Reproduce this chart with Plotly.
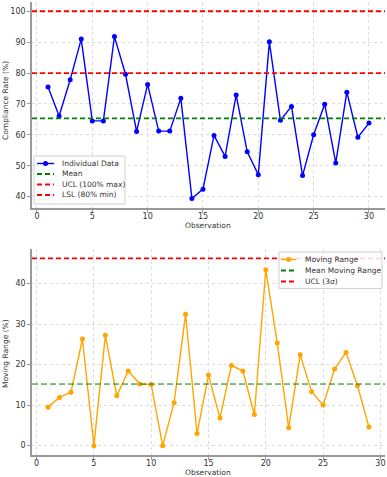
import plotly.graph_objects as go

obs = list(range(1, 31))
compliance = [75.5, 66.1, 77.8, 91.0, 64.5, 64.5, 91.8, 79.6, 61.1, 76.3,
              61.2, 61.2, 71.8, 39.4, 42.4, 59.8, 53.0, 72.9, 54.5, 47.1,
              90.1, 64.7, 69.2, 46.8, 60.0, 69.9, 50.9, 73.8, 59.2, 63.8]
mean_val = 65.3
ucl_top = 100
lsl_top = 80

mr_obs = list(range(1, 30))
moving_range = [9.5, 11.9, 13.2, 26.3, 0.0, 27.2, 12.3, 18.4, 15.2, 15.1,
                0.0, 10.6, 32.4, 3.0, 17.4, 6.8, 19.8, 18.4, 7.7, 43.4,
                25.3, 4.4, 22.4, 13.3, 10.0, 18.9, 23.0, 14.8, 4.6]
mean_mr = 15.2
ucl_mr = 46.2

top_legend = ["Individual Data", "Mean", "UCL (100% max)", "LSL (80% min)"]
bottom_legend = ["Moving Range", "Mean Moving Range", "UCL (3σ)"]

W, H = 387, 477
ML, MR, MT, MB = 32, 2, 2, 22
PW, PH = W - ML - MR, H - MT - MB
font = "DejaVu Sans"
dash = "5px,3px"
TXT = "#333333"


def px(x):
    return (x - ML) / PW


def py(y):
    return 1 - (y - MT) / PH


fig = go.Figure()

# Top chart
fig.add_trace(go.Scatter(x=obs, y=compliance, mode="lines+markers", name=top_legend[0],
                         line=dict(color="blue", width=1.4), marker=dict(color="blue", size=5),
                         xaxis="x", yaxis="y"))
fig.add_trace(go.Scatter(x=[-0.45, 31.45], y=[mean_val, mean_val], mode="lines", name=top_legend[1],
                         line=dict(color="green", width=1.8, dash=dash), xaxis="x", yaxis="y"))
fig.add_trace(go.Scatter(x=[-0.45, 31.45], y=[ucl_top, ucl_top], mode="lines", name=top_legend[2],
                         line=dict(color="red", width=1.8, dash=dash), xaxis="x", yaxis="y"))
fig.add_trace(go.Scatter(x=[-0.45, 31.45], y=[lsl_top, lsl_top], mode="lines", name=top_legend[3],
                         line=dict(color="red", width=1.8, dash=dash), xaxis="x", yaxis="y"))

# Bottom chart
fig.add_trace(go.Scatter(x=mr_obs, y=moving_range, mode="lines+markers", name=bottom_legend[0],
                         line=dict(color="orange", width=1.4), marker=dict(color="orange", size=5),
                         xaxis="x2", yaxis="y2"))
fig.add_trace(go.Scatter(x=[-0.4, 30.4], y=[mean_mr, mean_mr], mode="lines", name=bottom_legend[1],
                         line=dict(color="green", width=1.0, dash="6px,3px"), xaxis="x2", yaxis="y2"))
fig.add_trace(go.Scatter(x=[-0.4, 30.4], y=[ucl_mr, ucl_mr], mode="lines", name=bottom_legend[2],
                         line=dict(color="red", width=1.8, dash=dash), xaxis="x2", yaxis="y2"))

axis_common = dict(showline=True, linecolor="#999999", linewidth=1.5, ticks="outside",
                   ticklen=3, tickcolor="#999999", tickwidth=1, automargin=False,
                   showgrid=True, gridcolor="#dddddd", griddash="dot", gridwidth=1,
                   zeroline=False, tickfont=dict(size=8, color=TXT, family=font))

top_dom = [py(208), 1]
bot_dom = [0, py(249)]

fig.update_layout(
    width=W, height=H,
    margin=dict(l=ML, r=MR, t=MT, b=MB),
    paper_bgcolor="white", plot_bgcolor="white",
    font=dict(family=font, color=TXT),
    showlegend=False,
    xaxis=dict(domain=[0, 1], range=[-0.45, 31.45], tickvals=[0, 5, 10, 15, 20, 25, 30],
               anchor="y", ticklabelstandoff=-3, **axis_common),
    yaxis=dict(domain=top_dom, range=[36.3, 103.0],
               tickvals=[40, 50, 60, 70, 80, 90, 100], anchor="x", **axis_common),
    xaxis2=dict(domain=[0, 1], range=[-0.4, 30.4], tickvals=[0, 5, 10, 15, 20, 25, 30],
                anchor="y2", ticklabelstandoff=-3, **axis_common),
    yaxis2=dict(domain=bot_dom, range=[-2.3, 48.5],
                tickvals=[0, 10, 20, 30, 40], anchor="x2", **axis_common),
)

annotations = []
shapes = []
title_font = dict(size=7.5, family=font, color=TXT)

# Axis titles
annotations.append(dict(text="Observation", x=px(208), y=py(225.5), xref="paper", yref="paper",
                        showarrow=False, font=title_font, xanchor="center", yanchor="middle"))
annotations.append(dict(text="Observation", x=px(208), y=py(472), xref="paper", yref="paper",
                        showarrow=False, font=title_font, xanchor="center", yanchor="middle"))
annotations.append(dict(text="Compliance Rate (%)", x=px(5), y=py(101), xref="paper", yref="paper",
                        showarrow=False, font=title_font, textangle=-90,
                        xanchor="center", yanchor="middle"))
annotations.append(dict(text="Moving Range (%)", x=px(5), y=py(354), xref="paper", yref="paper",
                        showarrow=False, font=title_font, textangle=-90,
                        xanchor="center", yanchor="middle"))


def add_legend(box, rows, sample_x, text_x, items):
    x0, y0, x1, y1 = box
    shapes.append(dict(type="rect", xref="paper", yref="paper", x0=px(x0), x1=px(x1),
                       y0=py(y1), y1=py(y0), layer="above",
                       line=dict(color="#d0d0d0", width=1), fillcolor="rgba(255,255,255,0.85)"))
    for yy, (label, color, kind, width) in zip(rows, items):
        if kind == "marker":
            shapes.append(dict(type="line", xref="paper", yref="paper", x0=px(sample_x[0]),
                               x1=px(sample_x[1]), y0=py(yy), y1=py(yy), layer="above",
                               line=dict(color=color, width=1.4)))
            cx = px((sample_x[0] + sample_x[1]) / 2)
            shapes.append(dict(type="circle", xref="paper", yref="paper", xsizemode="pixel",
                               ysizemode="pixel", xanchor=cx, yanchor=py(yy), x0=-2.5, x1=2.5,
                               y0=-2.5, y1=2.5, layer="above", fillcolor=color,
                               line=dict(color=color, width=0)))
        else:
            shapes.append(dict(type="line", xref="paper", yref="paper", x0=px(sample_x[0]),
                               x1=px(sample_x[1]), y0=py(yy), y1=py(yy), layer="above",
                               line=dict(color=color, width=width, dash=dash)))
        annotations.append(dict(text=label, x=px(text_x), y=py(yy), xref="paper", yref="paper",
                                showarrow=False, font=dict(size=7.5, family=font, color=TXT),
                                xanchor="left", yanchor="middle"))


add_legend((34, 156, 125, 204), [163.5, 174, 184.5, 195], (37, 54), 59.5,
           [(top_legend[0], "blue", "marker", 1.4), (top_legend[1], "green", "dash", 1.8),
            (top_legend[2], "red", "dash", 1.8), (top_legend[3], "red", "dash", 1.8)])
add_legend((279, 252, 382, 288.5), [259.5, 270.5, 281.5], (281, 296), 303,
           [(bottom_legend[0], "orange", "marker", 1.4), (bottom_legend[1], "green", "dash", 1.8),
            (bottom_legend[2], "red", "dash", 1.8)])

fig.update_layout(annotations=annotations, shapes=shapes)

fig.write_html("out.html", config={"displayModeBar": False},
               post_script="document.body.style.margin='0';document.body.style.overflow='hidden';")
